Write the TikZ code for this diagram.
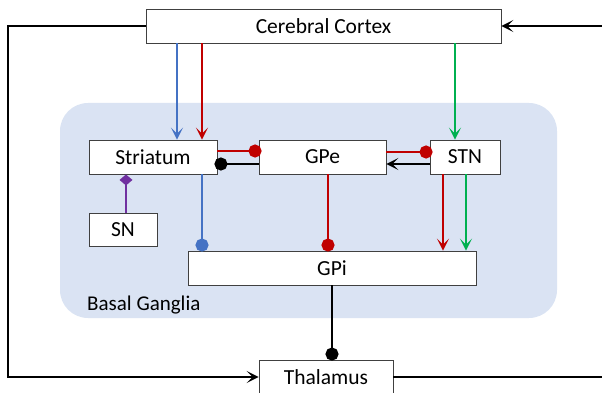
\documentclass[tikz,border=0pt]{standalone}
\usepackage{fontspec}
\setmainfont{Carlito}
\usetikzlibrary{arrows.meta}
\definecolor{bgblue}{HTML}{DAE3F3}
\definecolor{cblue}{HTML}{4472C4}
\definecolor{cred}{HTML}{C00000}
\definecolor{cgreen}{HTML}{00B050}
\definecolor{cpurple}{HTML}{7030A0}
\definecolor{boxline}{HTML}{404040}
\begin{document}
\begin{tikzpicture}[x=1pt,y=-1pt,
  region/.style={draw=none,fill=bgblue,rounded corners=28pt},
  unit/.style={draw=boxline,line width=0.9pt,fill=white,minimum height=34pt,
    inner sep=0pt,font=\fontsize{21.5}{25}\selectfont},
  link/.style={line width=2.8pt},
  excite/.style={link,-{Stealth[length=12pt,width=12pt,inset=6pt]}},
  inhibit/.style={link,-{Circle[length=13pt]},shorten >=-3pt},
  modulate/.style={link,-{Diamond[length=11pt,width=13pt]}}]
\useasboundingbox (0,0) rectangle (602,393);

% basal ganglia region
\fill[region] (60,103) rectangle (557,318);
\node[anchor=west,font=\fontsize{21}{25}\selectfont,inner sep=0pt] (bglabel) at (87,305) {Basal Ganglia};

% units
\node[unit,minimum width=355pt] (cortex) at (323.5,26) {Cerebral Cortex};
\node[unit,minimum width=128pt] (striatum) at (153,157) {Striatum};
\node[unit,minimum width=127pt] (gpe) at (322.5,157) {GPe};
\node[unit,minimum width=70pt] (stn) at (465,157) {STN};
\node[unit,minimum width=68pt,minimum height=33pt] (sn) at (123,229.5) {SN};
\node[unit,minimum width=288pt] (gpi) at (332,268) {GPi};
\node[unit,minimum width=134pt] (thal) at (326,377) {Thalamus};

% cortical inputs
\draw[excite,cblue] (177,0 |- cortex.south) -- (177,0 |- striatum.north);
\draw[excite,cred] (202,0 |- cortex.south) -- (202,0 |- striatum.north);
\draw[excite,cgreen] (455,0 |- cortex.south) -- (455,0 |- stn.north);

% striatum <-> GPe
\draw[inhibit,cred] (striatum.east |- 0,151) -- (gpe.west |- 0,151);
\draw[inhibit,black] (gpe.west |- 0,164) -- (striatum.east |- 0,164);

% GPe <-> STN
\draw[inhibit,cred] (gpe.east |- 0,152) -- (stn.west |- 0,152);
\draw[excite,black] (stn.west |- 0,164) -- (gpe.east |- 0,164);

% projections to GPi
\draw[inhibit,cblue,shorten >=-1pt] (202,0 |- striatum.south) -- (202,0 |- gpi.north);
\draw[inhibit,cred,shorten >=-1pt] (328,0 |- gpe.south) -- (328,0 |- gpi.north);
\draw[excite,cred] (443,0 |- stn.south) -- (443,0 |- gpi.north);
\draw[excite,cgreen] (466,0 |- stn.south) -- (466,0 |- gpi.north);

% SN modulation of striatum
\draw[modulate,cpurple] (126,0 |- sn.north) -- (126,0 |- striatum.south);

% GPi -> thalamus
\draw[inhibit,black,shorten >=-1pt] (332,0 |- gpi.south) -- (332,0 |- thal.north);

% thalamo-cortical loop
\coordinate (lx) at (8,200);
\coordinate (rx) at (612,200);
\draw[excite,black] (cortex.west) -| (lx) |- (thal.west);
\draw[excite,black] (thal.east) -| (rx) |- (cortex.east);
\end{tikzpicture}
\end{document}
